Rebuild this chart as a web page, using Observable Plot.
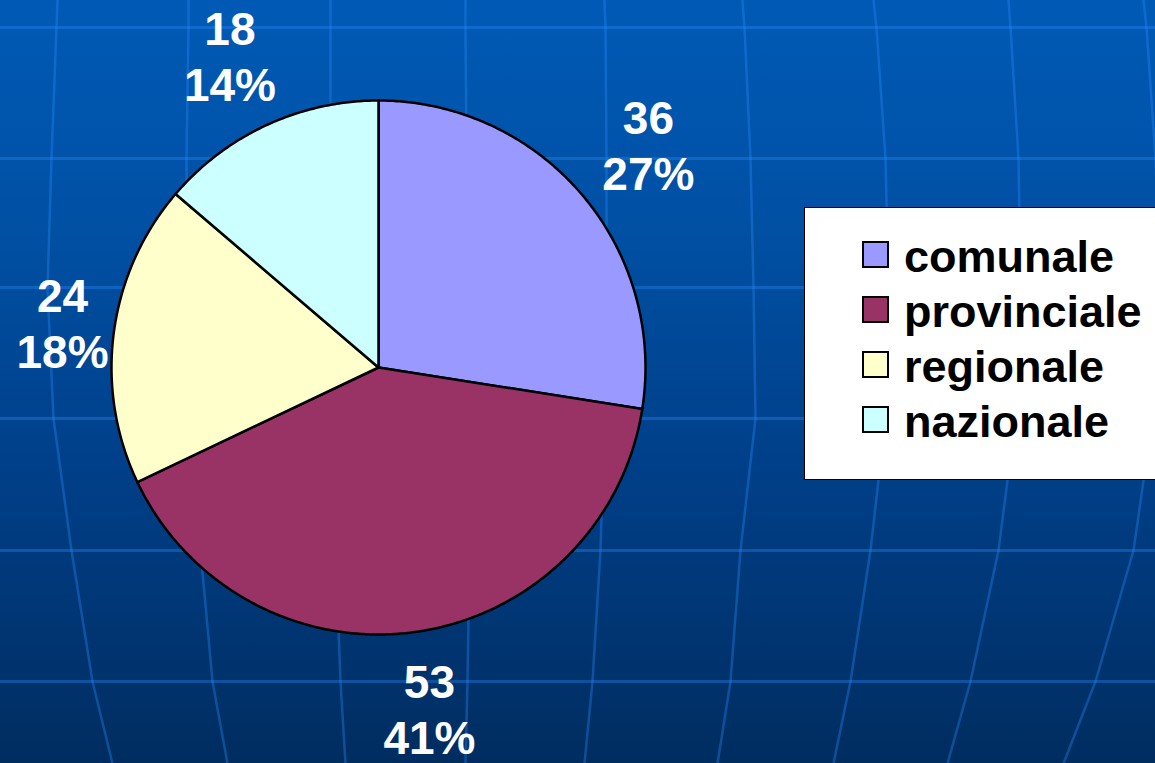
<!DOCTYPE html>
<html>
<head>
<meta charset="utf-8">
<script src="https://cdn.jsdelivr.net/npm/d3@7"></script>
<script src="https://cdn.jsdelivr.net/npm/@observablehq/plot@0.6"></script>
<style>
html, body { margin: 0; padding: 0; width: 1155px; height: 763px; overflow: hidden; }
#wrap { position: relative; width: 1155px; height: 763px; overflow: hidden;
  background: linear-gradient(to bottom, #005ab5 0%, #0050a4 30%, #00408a 60%, #002d60 100%); }
#chart { position: absolute; left: 0; top: 0; }
#legend { position: absolute; left: 804px; top: 207px; width: 420px; height: 271px;
  background: #fff; border: 1px solid #000;
  font-family: "Liberation Sans", Arial, sans-serif; font-weight: bold; font-size: 45px; color: #000; }
#legend .row { position: absolute; left: 0; height: 55px; line-height: 55px; width: 100%; }
#legend .sw { position: absolute; left: 57px; top: 12px; width: 23px; height: 23px; border: 2px solid #000; box-sizing: content-box; }
#legend .tx { position: absolute; left: 99px; top: 0; white-space: nowrap; }
</style>
</head>
<body>
<div id="wrap"><div id="chart"></div><div id="legend"></div></div>
<script>
// ---- data ----
const categories = ["comunale", "provinciale", "regionale", "nazionale"];
const values = [36, 53, 24, 18];
const percentLabels = ["27%", "41%", "18%", "14%"];
const colors = ["#9999FF", "#993366", "#FFFFCC", "#CCFFFF"];

// ---- decorative background grid (slide template) ----
const gridY = [0, 27, 158, 287, 418, 550, 681, 763];
const gridHorizontal = [27, 158, 287, 418, 550, 681];
const gridMeridians = [
  [57, 56, 51, 47, 53, 71, 92, 112],
  [188, 188, 186, 186, 190, 200, 212, 227],
  [330, 330, 330, 332, 333, 335, 340, 345],
  [465, 465, 466, 467, 468, 469, 467, 465],
  [604, 605, 606, 606, 604, 600, 592, 584],
  [742, 744, 750, 753, 755, 740, 730, 717],
  [873, 876, 885, 888, 885, 870, 850, 833],
  [1008, 1010, 1018, 1020, 1015, 998, 970, 947],
  [1143, 1146, 1155, 1160, 1152, 1133, 1095, 1063]
];

// ---- layout ----
const W = 1155, H = 763;
const cx = 378, cy = 367, r = 267;

const meridianPts = gridMeridians.flatMap((xs, i) => xs.map((x, j) => ({id: i, x, y: gridY[j]})));

const arcs = d3.pie().sort(null).value(d => d)(values);
const slicePts = arcs.flatMap((a, i) => {
  const pts = [{name: categories[i], x: cx, y: cy}];
  const n = Math.max(2, Math.ceil((a.endAngle - a.startAngle) / (Math.PI / 360)));
  for (let k = 0; k <= n; k++) {
    const t = a.startAngle + (a.endAngle - a.startAngle) * k / n;
    pts.push({name: categories[i], x: cx + r * Math.sin(t), y: cy - r * Math.cos(t)});
  }
  pts.push({name: categories[i], x: cx, y: cy});
  return pts;
});

const labelData = arcs.map((a, i) => {
  const m = (a.startAngle + a.endAngle) / 2;
  let x = cx + r * 1.33 * Math.sin(m);
  const y = cy - r * 1.29 * Math.cos(m);
  x = Math.max(62, Math.min(W - 62, x));
  return {x, y, text: values[i] + "\n" + percentLabels[i]};
});

const plot = Plot.plot({
  width: W, height: H,
  margin: 0,
  x: {domain: [0, W], range: [0, W], axis: null},
  y: {domain: [0, H], range: [0, H], axis: null},
  color: {domain: categories, range: colors},
  style: {background: "transparent", overflow: "visible"},
  marks: [
    Plot.ruleY(gridHorizontal, {stroke: "rgb(40,140,255)", strokeOpacity: 0.35, strokeWidth: 3}),
    Plot.line(meridianPts, {x: "x", y: "y", z: "id", stroke: "rgb(40,140,255)", strokeOpacity: 0.35, strokeWidth: 2.5}),
    Plot.line(slicePts, {x: "x", y: "y", z: "name", fill: "name", stroke: "#000", strokeWidth: 2.5, strokeLinejoin: "round"}),
    Plot.text(labelData, {x: "x", y: "y", text: "text", fill: "#fff", fontSize: 46, fontWeight: "bold",
      fontFamily: "'Liberation Sans', Arial, sans-serif", lineHeight: 1.22, lineAnchor: "middle", textAnchor: "middle"})
  ]
});
document.getElementById("chart").appendChild(plot);

// ---- legend ----
const legend = document.getElementById("legend");
categories.forEach((c, i) => {
  const row = document.createElement("div");
  row.className = "row";
  row.style.top = (21 + 55 * i) + "px";
  const sw = document.createElement("div");
  sw.className = "sw";
  sw.style.background = colors[i];
  const tx = document.createElement("div");
  tx.className = "tx";
  tx.textContent = c;
  row.appendChild(sw);
  row.appendChild(tx);
  legend.appendChild(row);
});
</script>
</body>
</html>
